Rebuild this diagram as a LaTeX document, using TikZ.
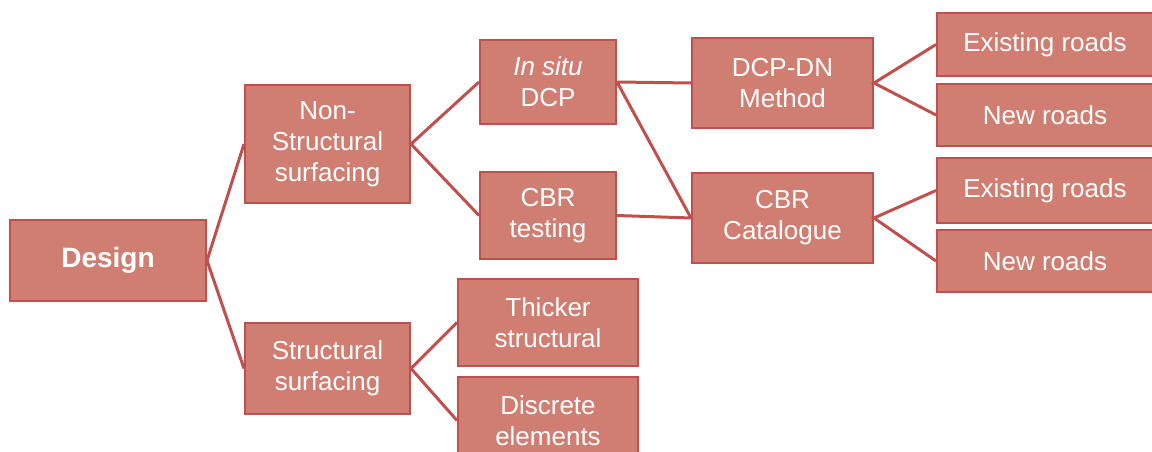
\documentclass[tikz,border=0pt]{standalone}
\usepackage{fontspec}
\setmainfont{Liberation Sans}
\definecolor{boxfill}{RGB}{209,126,114}
\definecolor{boxline}{RGB}{192,80,77}
\begin{document}
\begin{tikzpicture}[x=1pt,y=-1pt,
  box/.style={draw=boxline,line width=2pt,fill=boxfill,text=white,inner sep=0pt,
    align=center,font=\fontsize{26}{31}\selectfont},
  link/.style={draw=boxline,line width=3pt}]
\useasboundingbox (0,0) rectangle (1152,452);
\clip (0,0) rectangle (1152,452);
\node[box,minimum width=196pt,minimum height=81pt,font=\fontsize{28}{33}\selectfont\bfseries] (design) at (108,260.5) {Design};
\node[box,minimum width=165pt,minimum height=118pt] (nonstr) at (327.5,144) {Non-\\Structural\\surfacing};
\node[box,minimum width=165pt,minimum height=91pt] (str) at (327.5,368.5) {Structural\\surfacing};
\node[box,minimum width=136pt,minimum height=84pt] (insitu) at (548,82) {\textit{In situ}\\DCP};
\node[box,minimum width=136pt,minimum height=87pt] (cbrt) at (548,215.5) {CBR\\testing};
\node[box,minimum width=180pt,minimum height=87pt] (thick) at (548,322.5) {Thicker\\structural};
\node[box,minimum width=180pt,minimum height=87pt] (disc) at (548,420.5) {Discrete\\elements};
\node[box,minimum width=181pt,minimum height=90pt] (dcpdn) at (782.5,83) {DCP-DN\\Method};
\node[box,minimum width=181pt,minimum height=90pt] (cbrc) at (782.5,218) {CBR\\Catalogue};
\node[box,minimum width=216pt,minimum height=63pt] (ex1) at (1045,44.5) {Existing roads};
\node[box,minimum width=216pt,minimum height=62pt] (new1) at (1045,115) {New roads};
\node[box,minimum width=216pt,minimum height=65pt] (ex2) at (1045,190.5) {Existing roads};
\node[box,minimum width=216pt,minimum height=62pt] (new2) at (1045,261) {New roads};
\draw[link] (nonstr.west) -- (design.east) -- (str.west);
\draw[link] (insitu.west) -- (nonstr.east) -- (cbrt.west);
\draw[link] (thick.west) -- (str.east) -- (disc.west);
\draw[link] (dcpdn.west) -- (insitu.east) -- (cbrc.west);
\draw[link] (cbrt.east) -- (cbrc.west);
\draw[link] (ex1.west) -- (dcpdn.east) -- (new1.west);
\draw[link] (ex2.west) -- (cbrc.east) -- (new2.west);
\end{tikzpicture}
\end{document}
